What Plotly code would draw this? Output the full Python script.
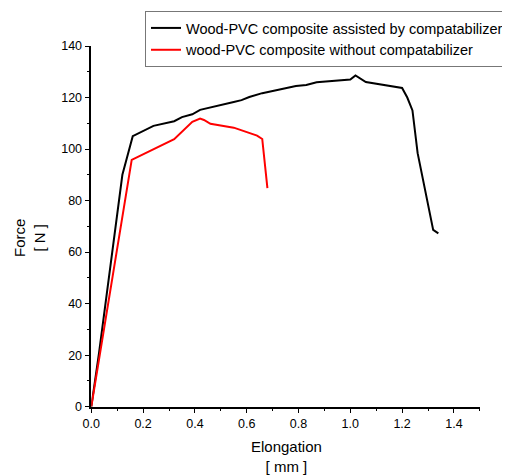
import plotly.graph_objects as go

# elongation [mm] / force [N]
elong_comp = [0.0, 0.03, 0.12, 0.16, 0.24, 0.32, 0.35, 0.39, 0.42, 0.47, 0.55, 0.58,
              0.61, 0.66, 0.79, 0.83, 0.87, 1.0, 1.02, 1.06, 1.2, 1.22, 1.24, 1.26,
              1.32, 1.34]
force_comp = [0.0, 21, 90, 105, 109, 110.8, 112.4, 113.5, 115.2, 116.5, 118.3, 119,
              120.2, 121.7, 124.5, 124.9, 125.9, 127, 128.6, 126, 123.7, 120, 115,
              98.4, 68.6, 67.3]

elong_plain = [0.0, 0.156, 0.32, 0.39, 0.42, 0.435, 0.46, 0.55, 0.64, 0.66, 0.68]
force_plain = [0.0, 95.8, 103.8, 110.6, 111.8, 111.3, 109.8, 108.3, 105.2, 103.9, 84.8]

name_comp = "Wood-PVC composite assisted by compatabilizer"
name_plain = "wood-PVC composite without compatabilizer"

# page body has an 8px margin, so the figure is drawn 8px in and kept 8px smaller
OFF = 8
W, H = 510 - OFF, 476 - OFF


def px_x(p):
    return (p - OFF) / W


def px_y(p):
    return 1 - (p - OFF) / H


fig = go.Figure()
fig.add_trace(go.Scatter(x=elong_comp, y=force_comp, mode="lines", name=name_comp,
                         line=dict(color="black", width=2)))
fig.add_trace(go.Scatter(x=elong_plain, y=force_plain, mode="lines", name=name_plain,
                         line=dict(color="red", width=2)))

axis_style = dict(
    showline=True, linecolor="black", linewidth=1.5,
    ticks="outside", ticklen=5, tickwidth=1.2, tickcolor="black",
    showgrid=False, zeroline=False, mirror=False, automargin=False,
    tickfont=dict(size=12.5, color="black"),
)

fig.update_xaxes(
    range=[0, 1.5], dtick=0.2, tickformat=".1f",
    domain=[px_x(91.3), px_x(479.8)],
    minor=dict(ticks="outside", ticklen=3, dtick=0.1, tickcolor="black"),
    **axis_style
)
fig.update_yaxes(
    range=[0, 140], dtick=20,
    domain=[px_y(406.7), px_y(46)],
    minor=dict(ticks="outside", ticklen=3, dtick=10, tickcolor="black"),
    **axis_style
)

# axis titles as annotations (two lines each, as in the reference)
fig.add_annotation(text="Elongation<br>[ mm ]", x=px_x(286), y=px_y(456),
                   xref="paper", yref="paper", showarrow=False,
                   font=dict(size=15), xanchor="center", yanchor="middle")
fig.add_annotation(text="Force<br>[ N ]", x=px_x(29), y=px_y(238),
                   xref="paper", yref="paper", showarrow=False, textangle=-90,
                   font=dict(size=15), xanchor="center", yanchor="middle")

fig.update_layout(
    width=W, height=H,
    margin=dict(l=0, r=0, t=0, b=0),
    plot_bgcolor="white", paper_bgcolor="white",
    font=dict(family="Liberation Sans, Arial, sans-serif", color="black"),
    legend=dict(
        x=px_x(145), y=px_y(11), xanchor="left", yanchor="top",
        bgcolor="white", bordercolor="#777777", borderwidth=1,
        font=dict(size=14.5), tracegroupgap=0,
    ),
)

fig.write_html("out.html")
